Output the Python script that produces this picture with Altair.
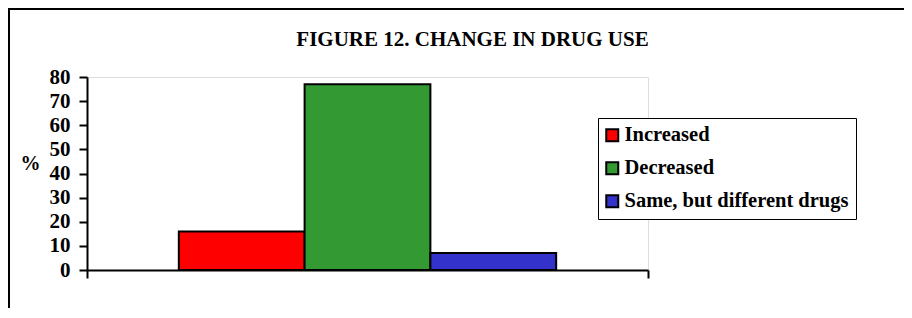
import altair as alt
import pandas as pd

categories = ["Increased", "Decreased", "Same, but different drugs"]
values = [16, 77, 7]
colors = ["#FF0000", "#339933", "#3333CC"]
y_ticks = [0, 10, 20, 30, 40, 50, 60, 70, 80]

df = pd.DataFrame({
    "category": categories,
    "value": values,
    "idx": list(range(len(categories))),
})

FONT = "Liberation Serif"
x_lo, x_hi = -0.73, len(categories) + 0.73

base = alt.Chart(df)

bars = base.mark_bar(stroke="black", strokeWidth=2, opacity=1).transform_calculate(
    idx2="datum.idx + 1"
).encode(
    x=alt.X("idx:Q",
            scale=alt.Scale(domain=[x_lo, x_hi], nice=False, zero=False),
            axis=alt.Axis(values=[x_lo, x_hi], labels=False, title=None, grid=False,
                          domainColor="black", domainWidth=2,
                          tickColor="black", tickWidth=2, tickSize=8)),
    x2="idx2:Q",
    y=alt.Y("value:Q",
            scale=alt.Scale(domain=[0, 80], nice=False),
            axis=alt.Axis(values=y_ticks, grid=False, title="%",
                          titleAngle=0, titleX=-57, titleY=86,
                          titleAlign="center", titleBaseline="middle",
                          titleFont=FONT, titleFontSize=20, titleFontWeight="bold",
                          titleColor="black",
                          labelFont=FONT, labelFontSize=21, labelFontWeight="bold",
                          labelColor="black", labelPadding=9,
                          domainColor="black", domainWidth=2,
                          tickColor="black", tickWidth=2, tickSize=8)),
    y2=alt.datum(0),
    color=alt.Color("category:N",
                    scale=alt.Scale(domain=categories, range=colors),
                    legend=alt.Legend(
                        title=None, orient="none", legendX=511, legendY=41,
                        symbolType="square", symbolSize=144,
                        symbolStrokeColor="black", symbolStrokeWidth=2,
                        symbolOpacity=1, symbolOffset=-3,
                        labelFont=FONT, labelFontSize=20.5, labelFontWeight="bold",
                        labelColor="black", labelOffset=2, labelLimit=400,
                        rowPadding=12, padding=7,
                        strokeColor="black", fillColor="white",
                    )),
)

frame = alt.Chart(alt.Data(values=[{}])).mark_rect(
    fill=None, fillOpacity=0, stroke="black", strokeWidth=2
).encode(
    x=alt.value(-78), x2=alt.value(3000),
    y=alt.value(-68), y2=alt.value(3000),
)

chart = alt.layer(frame, bars).properties(
    width=561,
    height=193,
    title=alt.TitleParams(
        "FIGURE 12. CHANGE IN DRUG USE",
        font=FONT, fontSize=21, fontWeight="bold", color="black",
        anchor="middle", frame="group", dx=105, offset=-42,
    ),
    padding={"left": 79, "top": 69, "right": 256, "bottom": 38},
    autosize=alt.AutoSizeParams(type="none"),
).configure_view(stroke=None).configure(background="white")

chart.save("out.html", embed_options={"renderer": "svg", "actions": False})
